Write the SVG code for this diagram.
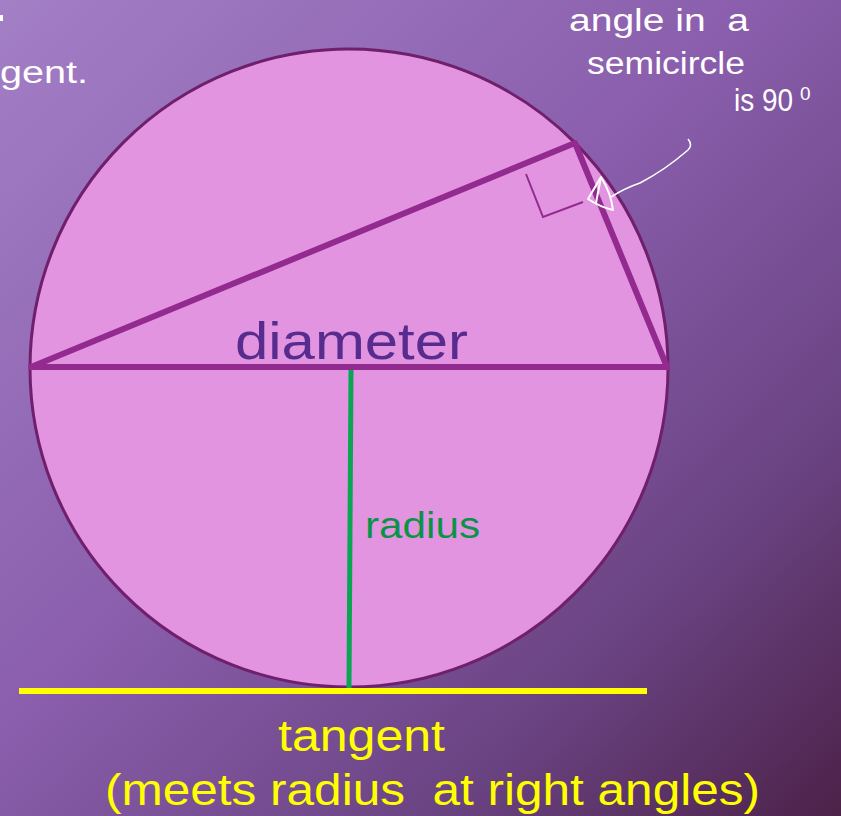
<svg xmlns="http://www.w3.org/2000/svg" width="841" height="816" viewBox="0 0 841 816">
<defs>
<linearGradient id="bg" x1="0" y1="0" x2="1" y2="1">
<stop offset="0" stop-color="#a37fc6"/>
<stop offset="0.45" stop-color="#8a5eac"/>
<stop offset="0.75" stop-color="#6b4484"/>
<stop offset="1" stop-color="#4c2249"/>
</linearGradient>
<style>
text{font-family:"Century Gothic","Liberation Sans","DejaVu Sans",sans-serif;white-space:pre;}
.w{fill:#ffffff;font-size:31px;}
.y{fill:#ffff00;font-size:44px;}
.chord{stroke:#922a8f;stroke-width:6;fill:none;stroke-linecap:round;}
</style>
</defs>
<rect x="0" y="0" width="841" height="816" fill="url(#bg)"/>
<g id="circle">
<circle cx="349" cy="368" r="319" fill="#e394e0" stroke="#6f1f6c" stroke-width="3"/>
</g>
<g id="connectors">
<line class="chord" x1="31" y1="367" x2="667" y2="367"/>
<polyline class="chord" points="31,367 575,143 667,367" stroke-linejoin="round"/>
<polyline points="526,174 543,217 583,202" fill="none" stroke="#922a8f" stroke-width="2"/>
<line x1="351" y1="370" x2="349" y2="688" stroke="#0aa552" stroke-width="5"/>
<line x1="19" y1="691" x2="647" y2="691" stroke="#ffff00" stroke-width="6"/>
<path d="M688,139 Q693,145 688,150 Q665,170 640,183 Q625,188 611,197" fill="none" stroke="#ffffff" stroke-width="1.5"/>
<path d="M601,177 L588,199 Q600,207 613,210 Q611,193 601,177 Z M601,177 L596,203" fill="none" stroke="#ffffff" stroke-width="2" stroke-linejoin="round"/>
</g>
<g id="labels">
<rect x="0" y="15" width="3" height="6" fill="#ffffff"/>
<text class="w" x="0" y="83" textLength="88" lengthAdjust="spacingAndGlyphs">gent.</text>
<text class="w" x="569" y="31" textLength="180" lengthAdjust="spacingAndGlyphs" xml:space="preserve">angle in  a</text>
<text class="w" x="587" y="74" textLength="158" lengthAdjust="spacingAndGlyphs">semicircle</text>
<text class="w" x="734" y="111" textLength="59" lengthAdjust="spacingAndGlyphs">is 90</text>
<text class="w" x="800" y="100" style="font-size:19px">0</text>
<text x="235" y="359" style="font-size:52px;fill:#582b8f" textLength="233" lengthAdjust="spacingAndGlyphs">diameter</text>
<text x="365" y="538" style="font-size:37px;fill:#0a9347" textLength="115" lengthAdjust="spacingAndGlyphs">radius</text>
<text class="y" x="278" y="751" textLength="167" lengthAdjust="spacingAndGlyphs">tangent</text>
<text class="y" x="105" y="805" textLength="655" lengthAdjust="spacingAndGlyphs" xml:space="preserve">(meets radius  at right angles)</text>
</g>
</svg>
